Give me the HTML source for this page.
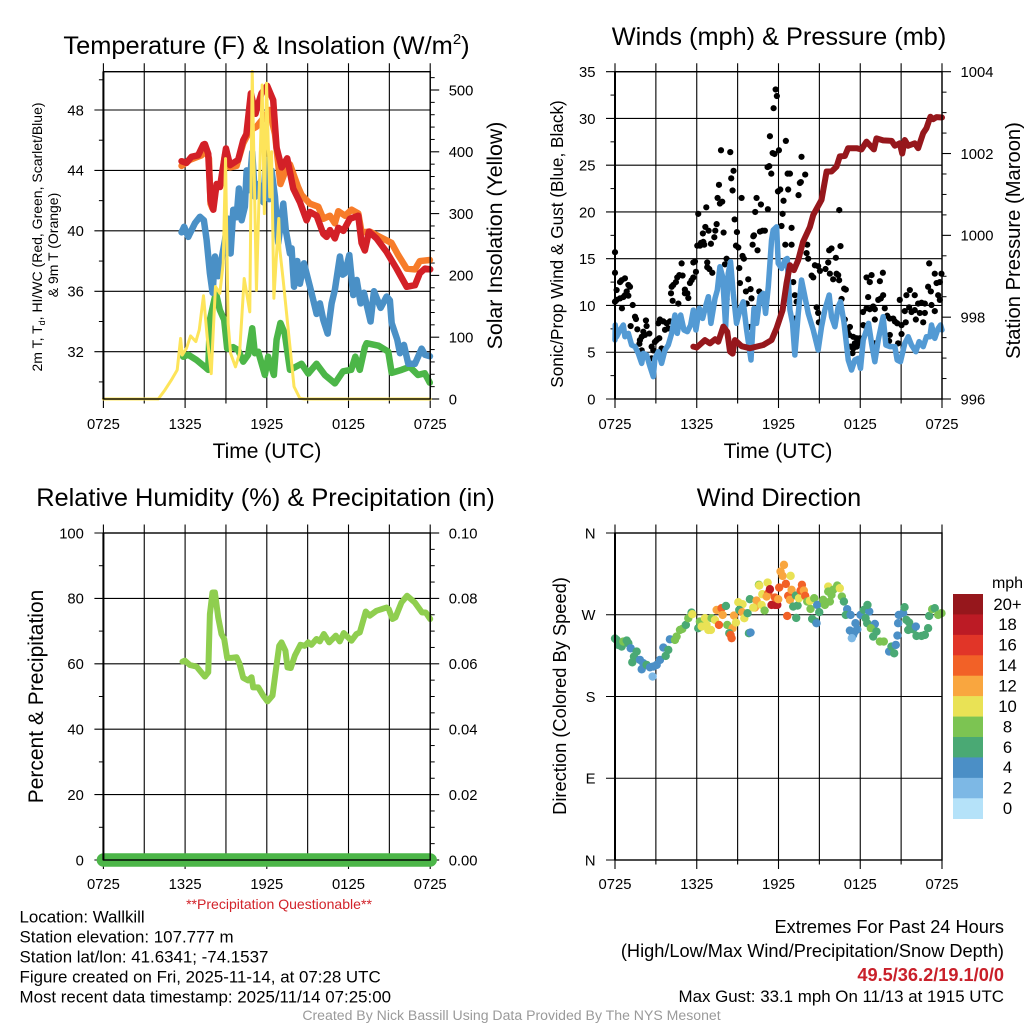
<!DOCTYPE html>
<html lang="en">
<head>
<meta charset="utf-8">
<title>Wallkill Mesonet Station Meteogram</title>
<style>
html,body{margin:0;padding:0;background:#fff;}
svg{display:block;font-family:"Liberation Sans",Arial,Helvetica,sans-serif;}
text{fill:#000;}
</style>
</head>
<body>
<svg id="chart" xmlns="http://www.w3.org/2000/svg" width="1024" height="1024" viewBox="0 0 1024 1024">
<rect x="0" y="0" width="1024" height="1024" fill="#fff"/>
<g id="layer"></g>

<text x="266.5" y="54" font-size="25.4" text-anchor="middle">Temperature (F) &amp; Insolation (W/m<tspan font-size="15" dy="-10">2</tspan><tspan dy="10">)</tspan></text>
<text x="779" y="45" font-size="25.3" text-anchor="middle">Winds (mph) &amp; Pressure (mb)</text>
<text x="265.5" y="506" font-size="25.4" text-anchor="middle">Relative Humidity (%) &amp; Precipitation (in)</text>
<text x="779" y="506" font-size="25.3" text-anchor="middle">Wind Direction</text>

<text x="267" y="458" font-size="21" text-anchor="middle">Time (UTC)</text>
<text x="778" y="458" font-size="21" text-anchor="middle">Time (UTC)</text>

<text transform="translate(42,237) rotate(-90)" font-size="14" text-anchor="middle">2m T, T<tspan font-size="9" dy="3">d</tspan><tspan dy="-3">, HI/WC (Red, Green, Scarlet/Blue)</tspan></text>
<text transform="translate(58,245) rotate(-90)" font-size="14" text-anchor="middle">&amp; 9m T (Orange)</text>
<text transform="translate(502,235.5) rotate(-90)" font-size="21.3" text-anchor="middle">Solar Insolation (Yellow)</text>
<text transform="translate(563,244) rotate(-90)" font-size="17.2" text-anchor="middle">Sonic/Prop Wind &amp; Gust (Blue, Black)</text>
<text transform="translate(1020,240.5) rotate(-90)" font-size="20.2" text-anchor="middle">Station Pressure (Maroon)</text>
<text transform="translate(43,696.5) rotate(-90)" font-size="21" text-anchor="middle">Percent &amp; Precipitation</text>
<text transform="translate(566,696) rotate(-90)" font-size="18.3" text-anchor="middle">Direction (Colored By Speed)</text>

<text x="279" y="909" font-size="14.05" text-anchor="middle" style="fill:#d2232a">**Precipitation Questionable**</text>

<text x="19.5" y="922.5" font-size="16.9">Location: Wallkill</text>
<text x="19.5" y="942.5" font-size="16.9">Station elevation: 107.777 m</text>
<text x="19.5" y="962.5" font-size="16.9">Station lat/lon: 41.6341; -74.1537</text>
<text x="19.5" y="982.5" font-size="16.9">Figure created on Fri, 2025-11-14, at 07:28 UTC</text>
<text x="19.5" y="1002.5" font-size="16.9">Most recent data timestamp: 2025/11/14 07:25:00</text>

<text x="1004" y="933" font-size="18.2" text-anchor="end">Extremes For Past 24 Hours</text>
<text x="1004" y="957" font-size="18.2" text-anchor="end">(High/Low/Max Wind/Precipitation/Snow Depth)</text>
<text x="1004" y="981" font-size="18.2" font-weight="bold" text-anchor="end" style="fill:#c9202a">49.5/36.2/19.1/0/0</text>
<text x="1004" y="1002" font-size="16.9" text-anchor="end">Max Gust: 33.1 mph On 11/13 at 1915 UTC</text>
<text x="511.5" y="1020" font-size="14.08" text-anchor="middle" style="fill:#9a9a9a">Created By Nick Bassill Using Data Provided By The NYS Mesonet</text>

<text x="1007.5" y="588" font-size="16" text-anchor="middle">mph</text>
</svg>

<script>
/* ---------- shared axis data ---------- */
const timeTickHours = [0, 6, 12, 18, 24];
const timeTickLabels = ['0725', '1325', '1925', '0125', '0725'];

/* ---------- temperature panel data ---------- */
const tempTicks = [32, 36, 40, 44, 48];
const solarTicks = [0, 100, 200, 300, 400, 500];

const orangeHours = [5.74,6.35,7.2,7.57,7.75,7.87,8,8.31,8.63,8.92,9.29,9.78,10.27,10.76,11.25,11.73,12.2,12.6,13,13.3,13.7,14.3,14.56,15.17,15.78,16.15,16.64,17,17.25,17.74,18.23,18.72,18.96,19.57,20.3,21.16,21.65,22.27,22.88,23.24,23.98];
const orangeTemps = [44.3,44.7,45,45.3,44.8,41.8,41.5,43,43.1,45,44.2,44.3,45.8,46.65,46.9,47.43,48,46.4,43.1,43.8,44.4,42.9,42.37,41.8,41.6,40.8,41,40.5,41.3,41,41.4,41.15,39.9,39.95,39.6,39.2,38.4,37.5,37.45,38,38.07];

const redHours = [5.74,6.1,6.47,6.96,7.33,7.45,7.7,7.87,8.07,8.31,8.56,9,9.3,9.9,10.27,10.5,10.83,11.17,11.37,11.61,12.03,12.47,12.72,13.09,13.5,13.94,14.43,14.92,15.17,15.66,16.15,16.39,16.64,17,17.25,17.62,18.1,18.72,18.96,19.2,19.5,20.06,20.8,21.53,22.27,22.88,23.24,23.61,24];
const redTemps = [44.61,44.5,44.9,45,45.7,45.75,45.1,42,41.4,43.1,42.9,45.45,44.35,44.7,46,46.4,49.1,47.75,48.4,49.1,49.6,48.65,45.5,44.2,44.8,42.8,41.9,40.7,41.25,41,39.8,39.6,40.05,39.5,40.2,40,40.8,41,39.2,38.7,39.95,39.5,38.6,37.5,36.3,36.4,37.2,37.5,37.45];

const blueHours = [5.74,5.93,6.23,6.72,7.09,7.38,7.58,7.82,8.02,8.19,8.44,8.61,8.93,9.17,9.34,9.54,9.78,9.95,10.15,10.39,10.52,10.71,10.93,11.13,11.37,11.74,11.94,12.18,12.35,12.6,12.84,13.21,13.4,13.7,13.82,14,14.24,14.43,14.73,15.2,15.66,15.9,16.15,16.47,16.76,17,17.37,17.57,17.74,18.06,18.35,18.6,18.89,19.13,19.62,19.87,20.36,20.8,21.04,21.17,21.58,21.78,22.07,22.39,22.88,23.37,23.61,23.98];
const blueTemps = [39.9,40.27,39.6,40.5,40.93,40.7,39.4,37.2,35.9,38.3,37,37.8,39.4,40.8,38.5,41.4,40.9,42.8,40.7,41.6,44,42.7,45.2,42.25,43.1,41.9,44.7,42.1,44,42.25,39.2,41.8,40,38.5,38.84,36.3,38,36.5,37.85,36.2,34.5,35.2,34.1,33.2,35.2,36.1,38.3,37.1,37.2,38.4,35.75,36.75,35.2,35.9,34,36,34.9,35.65,35.4,33.9,32.8,31.9,32.45,31.2,31.2,32.2,31.8,31.7];

const greenHours = [5.86,6.23,6.84,7.45,7.7,7.82,8.26,8.55,8.87,9.09,9.53,9.9,10.27,10.63,10.93,11.12,11.37,11.86,12.1,12.52,12.72,13,13.32,13.7,14.55,15.04,15.65,16.26,17,17.6,18.2,18.5,18.83,19.2,19.33,20.2,20.92,21.17,21.9,22.5,23.1,23.6,23.97];
const greenTemps = [31.67,31.8,31.45,31,30.8,34.1,35.9,34.76,34.1,32.2,32.3,32.1,31.34,31.8,33.55,31.9,32,30.46,31.67,30.46,32.8,33.9,33.2,30.8,31.2,30.55,31.2,30.46,29.9,30.7,30.8,31.67,30.8,32.3,32.56,32.4,32,30.6,30.8,31,30.46,30.57,29.95];

const solarHours = [0,4.03,4.52,5,5.42,5.67,5.79,6.1,6.4,6.79,7.04,7.35,7.62,7.92,8.06,8.23,8.55,8.8,8.97,9.16,9.34,9.7,10,10.34,10.5,10.75,10.93,11.24,11.66,11.82,11.98,12.22,12.35,12.52,12.72,12.88,12.96,13.2,13.7,14,14.43,14.8,24];
const solarWatts = [0,0,14.6,31,47,98,71,82,102,93,112,167,101,41,106,182,171,220,389,122,74,52,74,195,174,141,530,176,508,300,511,327,400,163,236,292,241,193,85,20,1,0,0];

/* ---------- wind panel data ---------- */
const windTicks = [0, 5, 10, 15, 20, 25, 30, 35];
const pressureTicks = [996, 998, 1000, 1002, 1004];

const windHours = [0,0.02,0.12,0.37,0.61,0.73,0.98,1.22,1.47,1.71,1.96,2.08,2.32,2.57,2.81,2.93,3.18,3.42,3.67,3.91,4.16,4.4,4.57,4.82,5.06,5.31,5.55,5.75,5.94,6.19,6.43,6.68,6.85,7.04,7.34,7.51,7.7,7.9,8.12,8.31,8.48,8.68,8.92,9.17,9.41,9.66,9.98,10.2,10.39,10.64,10.88,11.05,11.25,11.37,11.49,11.61,11.86,11.98,12.23,12.47,12.64,12.84,13.03,13.2,13.45,13.69,13.89,14.18,14.55,14.91,15.16,15.4,15.72,15.89,16.14,16.38,16.55,16.8,17.12,17.36,17.6,17.85,18.02,18.22,18.46,18.61,18.83,19.07,19.32,19.68,19.88,20.17,20.54,20.71,20.95,21.27,21.52,21.76,22.08,22.32,22.62,22.86,23.11,23.23,23.47,23.72,23.89,24];
const windSpeeds = [6.31,7.91,6.66,7.38,7.91,6.66,7.02,5.77,5.6,4.88,3.81,4.88,4.7,3.46,2.39,4.35,5.06,3.81,5.24,5.77,7.02,8.98,7.02,8.98,7.38,7.2,7.91,9.51,7.38,9.69,8.62,10.05,10.94,8.09,10.76,11.65,14.14,13.07,7.73,13.43,14.68,11.29,8.09,9.51,10.4,7.38,4.17,9.69,8.09,10.94,11.29,9.16,12,14.5,17,18.06,18.4,14.5,13.96,14.85,15.03,9.51,8.09,4.7,9.16,12.72,11.29,9.16,7.38,5.24,7.73,9.51,11.12,8.8,7.73,9.87,10.4,8.27,4.17,3.1,4.17,4.35,3.28,6.31,7.38,8.09,5.95,3.99,6.31,8.8,5.77,5.6,5.6,4.17,3.99,5.95,6.66,5.77,5.06,6.13,5.6,6.66,6.66,7.91,6.49,7.55,7.91,7.38];

const pressureHours = [5.75,6,6.6,6.97,7.34,7.58,7.95,8.24,8.44,8.63,8.8,9.29,9.9,10.88,11.49,11.86,12.3,12.59,12.84,13.13,13.45,13.8,14.3,14.55,15.16,15.53,15.89,16.26,16.5,16.87,17.11,17.73,18.09,18.46,19,19.19,19.68,20.3,20.54,20.9,21.08,21.27,21.52,22,22.25,22.62,22.86,23.15,23.35,23.6,24];
const pressureValues = [997.28,997.26,997.44,997.36,997.46,997.4,997.77,997.64,997.16,997.11,997.44,997.29,997.24,997.32,997.44,997.73,998.17,998.83,999.27,999.15,999.4,999.84,1000.2,1000.5,1000.87,1001.56,1001.56,1001.68,1001.93,1001.94,1002.13,1002.13,1002.1,1002.29,1002.1,1002.37,1002.32,1002.31,1002.19,1002.25,1002,1002.33,1002.19,1002.25,1002.13,1002.5,1002.62,1002.9,1002.84,1002.89,1002.88];

const gustHours = [11.79,11.88,11.64,11.37,12.54,7.78,8.46,12.03,11.57,11.71,13.69,8.7,8.53,11.2,11.32,11.47,12.67,12.84,13.96,13.64,13.57,7.63,8.63,11.96,12.13,12.71,13.47,7.53,9.29,10.39,12.37,7.87,7.7,6.7,10.71,11.22,10.29,16.46,6.11,12.3,8.78,7.46,6.63,12.22,12.96,6.87,7.36,6.45,7.97,8.95,10.64,10.83,11,10.2,7.29,10.15,6.48,6.31,6.04,6.24,7.04,6.55,12.5,12.96,8.88,9.05,10.1,10.46,14.11,14.06,16.55,15.89,15.72,16.21,0,14.18,9.36,9.46,8.19,5.87,5.75,4.89,6.77,8.07,15.65,23.06,14.67,14.91,6.77,6.92,9.12,15.45,15.04,5.94,7.14,0,15.77,16.26,16.38,14.43,14.55,4.72,4.96,4.57,19.66,18.83,18.46,23.47,23.96,5.75,5.62,5.5,0.73,0.49,0.37,0.98,1.1,16.01,16.45,19.44,18.7,4.47,4.28,4.16,9.17,9.78,13.08,23.84,23.6,8.19,16.82,16.94,21.64,21.39,22.98,23.18,0.12,0.86,0.73,4.11,5.13,5.31,5.13,5.38,9.61,9.95,10.59,0.98,18.58,19.68,19.51,19.32,23.72,23.84,22,0.61,0.37,0.12,0,10.02,9.66,8.19,4.23,4.65,13.33,13.2,20.9,22.5,22.25,22.74,23.23,16.63,1.3,21.59,21.76,21.27,18.95,18.46,18.7,18.2,19.07,14.8,14.91,14.96,0.51,19.8,23.47,22.37,22.74,22,1.47,1.54,13.2,3.3,3.55,4.03,3.79,3.18,19.98,20.42,20.17,20.54,20.71,19.07,16.87,2.27,2.32,22.62,22.08,1.15,1.64,21.03,21.34,17.24,18.22,18.39,9.9,3.91,3.67,2.08,2.52,2.2,17.07,17.19,21.03,3.25,3.06,2.93,1.96,1.83,1.79,20.17,20.12,17.48,17.73,17.97,17.6,17.85,19.07,20.78,17.29,17.48,17.73,3.42,2.81,1.96,2.69,17.43,2.69];
const gustSpeeds = [33.1,32.4,31.1,28.1,27.6,26.6,26.4,26.6,26.3,26.2,25.9,24.4,23.6,24.8,24.9,24.1,24.1,24.1,24,23.2,23.1,22.9,22.3,22.2,22.4,22.4,21.8,21.5,21.5,21.5,21.2,21.1,20.9,20.5,20.8,20.3,20,20.2,19.8,19.8,19.2,18.7,18.4,18.5,18.3,18,18,17.7,17.8,17.85,17.9,18,18,17.5,17.3,17.4,16.8,16.7,16.4,16.4,16.6,16.5,16.5,16.5,16.4,16.2,16.5,15.9,16.5,15.6,16.35,16.1,15.9,15.1,15.7,15,15.3,15,15,14.7,14.6,14.5,14.6,14.4,14.6,14.5,14.3,14.2,14.1,13.9,14,13.9,13.7,13.6,13.5,13.5,13.4,13.4,13.25,13.2,13,13.25,13.2,13,13.5,13.25,13,13.4,13.4,13,12.7,12.4,12.9,12.7,12.5,12.2,12,12.8,12.7,12.6,12.5,12.5,12.2,12,12.4,12.8,12.5,12.5,12.4,12,11.8,11.7,11.65,11.1,12,11.5,11.65,11.5,11.1,11.3,11.7,11.3,11.3,10.8,11.5,11.75,11.5,11.05,10.9,11.1,10.75,10.6,11.1,10.6,11.1,10.9,10.76,10.6,10.4,10.76,10.2,10.65,10.5,10.2,10.4,11.1,10.6,10.3,10.2,10.2,10.05,10.7,10.05,9.8,9.3,9.4,9.9,9.7,9.6,9.3,9.6,9.8,9.2,8.2,9.7,9.7,9.4,9.2,9.2,9.5,8.8,8.55,8.6,8.5,8.3,8.3,8.1,8.1,8.9,8.6,8.6,8.3,8.1,8.5,8.5,8.4,7.8,8.2,8.5,7.8,7.45,7.9,8.2,7.7,7.9,7.8,7.7,7.55,7.4,7.2,7,6.85,7.2,6.85,6.95,6.5,6.3,6.1,6.65,6.3,5.9,6.85,6.2,6.65,6.5,6.5,5.95,5.95,5.95,5.95,5.6,5.4,5.6,5.4,5.2,5.2,5.6,4.9,4.35];

/* ---------- humidity / precipitation panel data ---------- */
const humidityTicks = [0, 20, 40, 60, 80, 100];
const precipTicks = ['0.00', '0.02', '0.04', '0.06', '0.08', '0.10'];

const humidityHours = [5.81,5.98,6.35,6.84,7.45,7.7,7.82,8.01,8.19,8.43,8.67,8.87,9.09,9.41,9.78,10,10.27,10.63,10.88,11,11.37,11.73,12.05,12.42,12.66,12.91,13.08,13.37,13.52,13.76,14.06,14.47,14.79,15.04,15.28,15.65,15.89,16.19,16.58,17.07,17.36,17.65,18.22,18.58,18.83,19.27,19.56,20.05,20.79,20.96,21.23,21.45,21.89,22.3,22.87,23.4,23.67,24];
const humidityValues = [60.66,60.96,59.64,59.13,56.08,57.4,75.2,81.8,81.8,74.2,69.1,67.6,61.8,61.8,62,60,55.7,54.9,55.9,52.8,52.8,50.3,48.5,50.3,57.9,65.5,66.55,64,58.9,58.7,62.5,65.8,65.5,66.55,65.8,67.6,66.85,69.1,66.55,68.6,66.85,69.4,67.06,69.1,69.6,76,74.7,76.2,77.2,76.7,73.7,74.2,78.75,80.8,78.75,75.7,75.7,73.7];

const precipHours = [0, 24];
const precipValues = [0, 0];

/* ---------- wind direction panel data ---------- */
const compassTicks = [0, 90, 180, 270, 360];
const compassLabels = ['N', 'E', 'S', 'W', 'N'];

const directionHours = [0,0.12,0.24,0.49,0.61,0.86,0.98,1.15,1.59,1.39,1.27,1.83,2.08,1.96,2.32,2.57,2.81,2.76,3.06,3.3,3.55,3.72,3.91,4.03,4.4,4.52,4.77,4.94,5.2,5.38,5.62,5.67,6.11,6.23,6.36,6.6,6.72,6.85,7.09,7.34,7.46,7.04,7.82,8.14,7.9,7.63,8.24,8.63,8.39,8.48,8.56,8.73,8.88,9.05,9.36,9.12,9.34,9.49,9.73,9.9,9.83,9.95,10.27,10.39,10.15,10.56,10.59,10.76,10.81,10.98,11.2,11.25,11.13,11.37,11.49,11.74,11.91,11.74,11.98,12.05,12.15,12.4,12.3,12.89,12.54,12.64,12.71,12.84,12.96,13.28,13.08,13.4,13.3,13.5,13.72,13.62,13.86,13.96,14.11,14.3,14.35,14.62,14.47,14.72,14.79,14.84,14.99,15.28,15.4,15.77,15.89,15.65,15.65,16.01,16.31,16.5,16.65,16.8,17.04,16.94,17.29,17.65,17.24,17.6,17.78,17.48,17.38,18.02,18.26,18.66,18.53,18.39,18.51,19.07,18.78,19.19,18.95,19.44,19.73,20.12,20.29,20.49,20.61,20.73,20.78,20.83,21.15,21.25,21.39,21.59,21.52,21.88,22.08,22.13,22.5,22.74,22.98,23.06,23.28,23.47,23.72,23.96];
const directionDegrees = [243.8,242.3,236.8,235,240.5,241.6,238.6,233.1,229.5,224,217.7,220.3,216.6,210,214.8,212.2,213,202,214.8,220.3,233.9,224.7,231.3,243,242.3,246,253.3,254.4,258.8,266.2,272.4,270.6,255.2,262.5,257,266.2,258.8,253.3,266.2,264.3,275.3,253.3,277.2,279.7,269.8,258.8,258.8,255.2,249.7,247.8,244.2,269.1,261.4,283.8,281.6,275.3,272.8,266.2,271.7,287.1,249.7,250.4,277.9,285.6,277.9,302.9,302.1,280.8,292.6,274.6,305.4,293.7,290,298.1,280.8,280.8,280.8,288.9,287.1,299.9,317.6,324.9,312.8,312.8,304,268.7,290.8,286.4,297.4,291.1,279,280.1,266.5,288.2,302.9,296.6,296.6,290.8,284.5,285.3,276.4,288.2,265.4,262.5,260.7,280.8,272.8,286.4,280.8,284.5,291.9,301,295.5,297.4,302.1,299.2,290,284.5,276.1,269.8,269.8,260.7,252.6,251.5,254,247.8,244.2,269.8,275.3,273.5,280.8,266.2,260.7,259.9,255.2,251.5,246,240.5,240.5,229.5,235,227.6,236.8,247.1,260.7,269.8,271.7,278.3,264.3,261.4,253.3,254,257,246.7,246.7,247.8,255.2,268.7,276.1,277.2,269.8,271.7];
const directionSpeeds = [7,7,7,7,9,7,7,5,7,7,7,5,5,5,7,5,5,3,5,5,5,7,7,5,9,9,9,9,7,9,7,11,7,9,11,11,11,11,9,11,13,11,15,7,13,15,9,13,7,15,15,13,11,11,11,7,13,11,7,7,7,5,13,13,11,9,11,11,11,9,11,15,13,19,19,19,19,15,13,15,13,13,13,11,15,15,15,13,13,7,7,7,7,11,15,15,13,15,9,11,9,9,7,7,5,5,7,9,9,9,9,11,9,9,9,11,9,7,5,7,5,5,5,5,5,5,3,5,7,5,7,7,7,5,9,7,7,9,9,5,7,7,5,5,5,5,5,7,7,7,7,7,5,7,7,7,7,7,9,7,9,9];

/* ---------- legend data ---------- */
const legendLabels = ['20+', '18', '16', '14', '12', '10', '8', '6', '4', '2', '0'];
const legendColors = ['#96171c', '#bc1b25', '#e13528', '#f26127', '#f9a63f', '#e9e255', '#7cc452', '#4aa974', '#4b8fc6', '#7db8e5', '#b5e2f9'];

/* ---------- helpers ---------- */
const NS = 'http://www.w3.org/2000/svg';
const layer = document.getElementById('layer');

function make(tag, parent, props) {
  const node = document.createElementNS(NS, tag);
  for (const key in props) node.setAttribute(key, props[key]);
  parent.appendChild(node);
  return node;
}
function linear(d0, d1, r0, r1) {
  return function (v) { return r0 + (v - d0) * (r1 - r0) / (d1 - d0); };
}
function pathFrom(xs, ys, sx, sy) {
  return xs.map(function (x, i) {
    return (i ? 'L' : 'M') + sx(x).toFixed(2) + ' ' + sy(ys[i]).toFixed(2);
  }).join('');
}
function colorForSpeed(speed) {
  const bin = Math.min(10, Math.floor(Math.max(0, speed) / 2));
  return legendColors[10 - bin];
}

const INK = '#000';
const LEFT = { x0: 103.4, x1: 430.2 };
const RIGHT = { x0: 615, x1: 942 };
const TOP = { y0: 399, y1: 71.7 };
const BOTTOM = { y0: 860, y1: 533 };

/* draws gridlines, ticks and labels for the time axis of one panel */
function drawTimeAxis(group, box, baseline) {
  const sx = linear(0, 24, box.x0, box.x1);
  for (let h = 0; h <= 24; h += 3) {
    const major = h % 6 === 0;
    const x = sx(h);
    const grid = make('line', group, { x1: x, x2: x, y1: box.y1 - 8.5, y2: box.y0 + (major ? 9 : 4.5), stroke: INK, 'stroke-width': 1.1 });
    
    
  }
  timeTickHours.forEach(function (h, i) {
    const label = make('text', group, { x: sx(h), y: baseline, 'font-size': 14.8, 'text-anchor': 'middle' });
    label.textContent = timeTickLabels[i];
    
    
  });
  return sx;
}
/* horizontal grid plus left tick labels */
function drawLeftAxis(group, box, sy, ticks, labels, minors) {
  ticks.forEach(function (v, i) {
    const y = sy(v);
    const grid = make('line', group, { x1: box.x0 - 9, x2: box.x1, y1: y, y2: y, stroke: INK, 'stroke-width': 1.1 });
    
    
    const label = make('text', group, { x: box.x0 - 19.5, y: y + 5.3, 'font-size': 14.8, 'text-anchor': 'end' });
    label.textContent = labels[i];
    
    
  });
  minors.forEach(function (v) {
    const y = sy(v);
    const tick = make('line', group, { x1: box.x0 - 4.5, x2: box.x0, y1: y, y2: y, stroke: INK, 'stroke-width': 1 });
    
    
  });
}
/* right-hand axis */
function drawRightAxis(group, box, sy, ticks, labels, minors) {
  ticks.forEach(function (v, i) {
    const y = sy(v);
    const tick = make('line', group, { x1: box.x1, x2: box.x1 + 9, y1: y, y2: y, stroke: INK, 'stroke-width': 1.1 });
    
    
    const label = make('text', group, { x: box.x1 + 18.5, y: y + 5.3, 'font-size': 14.8 });
    label.textContent = labels[i];
    
    
  });
  minors.forEach(function (v) {
    const y = sy(v);
    const tick = make('line', group, { x1: box.x1, x2: box.x1 + 4.5, y1: y, y2: y, stroke: INK, 'stroke-width': 1 });
    
    
  });
}
function drawFrame(group, box) {
  const frame = make('rect', group, { x: box.x0, y: box.y1, width: box.x1 - box.x0, height: box.y0 - box.y1, fill: 'none', stroke: INK, 'stroke-width': 1.4 });
  
  
  const spine = make('line', group, { x1: box.x0, x2: box.x0, y1: box.y1, y2: box.y0, stroke: INK, 'stroke-width': 2 });
  
  
}
function drawLine(group, d, color, width) {
  return make('path', group, { d: d, fill: 'none', stroke: color, 'stroke-width': width, 'stroke-linejoin': 'round', 'stroke-linecap': 'round' });
}
function steps(from, to, step) {
  const out = [];
  for (let v = from; v <= to + 1e-9; v += step) out.push(v);
  return out;
}

/* ---------- temperature panel ---------- */
const tempGroup = make('g', layer, {});


const tempBox = { x0: LEFT.x0, x1: LEFT.x1, y0: TOP.y0, y1: TOP.y1 };
const tempX = drawTimeAxis(tempGroup, tempBox, 429);
const tempY = linear(32, 48, 351.7, 110);
const solarY = linear(0, 500, 399, 90);
drawLeftAxis(tempGroup, tempBox, tempY, tempTicks, tempTicks, [30, 34, 38, 42, 46, 50]);
drawRightAxis(tempGroup, tempBox, solarY, solarTicks, solarTicks, steps(20, 520, 20).filter(function (v) { return v % 100 !== 0; }));

const greenLine = drawLine(tempGroup, pathFrom(greenHours, greenTemps, tempX, tempY), '#4cb648', 6.5);


const blueLine = drawLine(tempGroup, pathFrom(blueHours, blueTemps, tempX, tempY), '#4a90c6', 6.5);


const orangeLine = drawLine(tempGroup, pathFrom(orangeHours, orangeTemps, tempX, tempY), '#f77c2a', 6.5);


const redLine = drawLine(tempGroup, pathFrom(redHours, redTemps, tempX, tempY), '#d32027', 6.5);


const solarLine = drawLine(tempGroup, pathFrom(solarHours, solarWatts, tempX, solarY), '#fde45a', 3);


drawFrame(tempGroup, tempBox);

/* ---------- wind panel ---------- */
const windGroup = make('g', layer, {});


const windBox = { x0: RIGHT.x0, x1: RIGHT.x1, y0: TOP.y0, y1: TOP.y1 };
const windX = drawTimeAxis(windGroup, windBox, 429);
const windY = linear(0, 35, 399, 71.7);
const pressureY = linear(996, 1004, 399, 71.7);
drawLeftAxis(windGroup, windBox, windY, windTicks, windTicks, [2.5, 7.5, 12.5, 17.5, 22.5, 27.5, 32.5]);
drawRightAxis(windGroup, windBox, pressureY, pressureTicks, pressureTicks, steps(996.5, 1003.5, 0.5).filter(function (v) { return v % 2 !== 0; }));

gustHours.forEach(function (h, i) {
  const dot = make('circle', windGroup, { cx: windX(h), cy: windY(gustSpeeds[i]), r: 3.1, fill: '#000' });
  
  
});
const windLine = drawLine(windGroup, pathFrom(windHours, windSpeeds, windX, windY), '#539ad4', 5.5);


const pressureLine = drawLine(windGroup, pathFrom(pressureHours, pressureValues, windX, pressureY), '#96171c', 6);


drawFrame(windGroup, windBox);

/* ---------- humidity panel ---------- */
const humidGroup = make('g', layer, {});


const humidBox = { x0: LEFT.x0, x1: LEFT.x1, y0: BOTTOM.y0, y1: BOTTOM.y1 };
const humidX = drawTimeAxis(humidGroup, humidBox, 889);
const humidY = linear(0, 100, 860, 533);
const precipY = linear(0, 0.1, 860, 533);
drawLeftAxis(humidGroup, humidBox, humidY, humidityTicks, humidityTicks, [10, 30, 50, 70, 90]);
drawRightAxis(humidGroup, humidBox, humidY, humidityTicks, precipTicks, steps(5, 95, 5).filter(function (v) { return v % 20 !== 0; }));

const humidityLine = drawLine(humidGroup, pathFrom(humidityHours, humidityValues, humidX, humidY), '#8fce4f', 6);


const precipLine = drawLine(humidGroup, pathFrom(precipHours, precipValues, humidX, precipY), '#4cb648', 13.5);


drawFrame(humidGroup, humidBox);

/* ---------- wind direction panel ---------- */
const dirGroup = make('g', layer, {});


const dirBox = { x0: RIGHT.x0, x1: RIGHT.x1, y0: BOTTOM.y0, y1: BOTTOM.y1 };
const dirX = drawTimeAxis(dirGroup, dirBox, 889);
const dirY = linear(0, 360, 860, 533);
drawLeftAxis(dirGroup, dirBox, dirY, compassTicks, compassLabels, []);
directionHours.forEach(function (h, i) {
  const dot = make('circle', dirGroup, { cx: dirX(h), cy: dirY(directionDegrees[i]), r: 4.2, fill: colorForSpeed(directionSpeeds[i]) });
  
  
});
drawFrame(dirGroup, dirBox);

/* ---------- speed legend ---------- */
const legendGroup = make('g', layer, {});


const legendY = linear(0, legendLabels.length, 594, 818.7);
legendLabels.forEach(function (text, i) {
  const swatch = make('rect', legendGroup, { x: 953, y: legendY(i), width: 30, height: legendY(i + 1) - legendY(i) + 0.3, fill: legendColors[i] });
  
  
  const label = make('text', legendGroup, { x: 1007.5, y: (legendY(i) + legendY(i + 1)) / 2 + 5.6, 'font-size': 16.7, 'text-anchor': 'middle' });
  label.textContent = text;
  
  
});
</script>
</body>
</html>
